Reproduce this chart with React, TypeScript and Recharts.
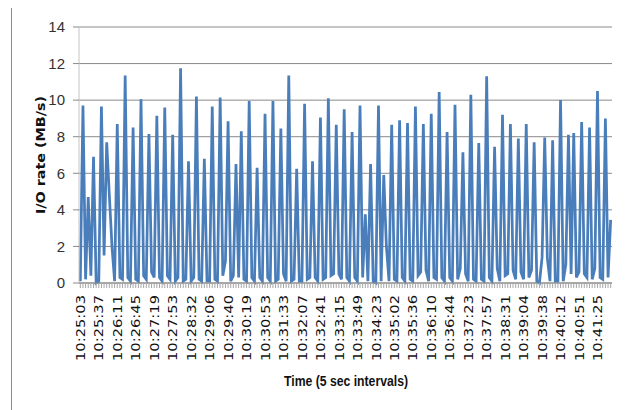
import { CartesianGrid, Label, Line, LineChart, XAxis, YAxis } from "recharts";

// one label every 7 samples (~5 s apart)
const tickLabels = [
  "10:25:03", "10:25:37", "10:26:11", "10:26:45", "10:27:19", "10:27:53", "10:28:32",
  "10:29:06", "10:29:40", "10:30:19", "10:30:53", "10:31:33", "10:32:07", "10:32:41",
  "10:33:15", "10:33:49", "10:34:23", "10:35:02", "10:35:36", "10:36:10", "10:36:44",
  "10:37:23", "10:37:57", "10:38:31", "10:39:04", "10:39:38", "10:40:12", "10:40:51",
  "10:41:25",
];
const labelEvery = 7;

// I/O rate in MB/s, one value per sample
const ioRate = [
  0.1, 9.7, 0.2, 4.7, 0.4, 6.9, 0.0, 0.1, 9.65, 1.5,
  7.7, 4.8, 2.0, 0.1, 8.7, 0.3, 0.2, 11.35, 0.3, 0.1,
  8.5, 0.2, 0.1, 10.05, 0.4, 0.2, 8.15, 0.6, 0.3, 9.15,
  0.3, 0.1, 9.6, 0.4, 0.2, 8.1, 0.1, 0.3, 11.75, 0.1,
  0.2, 6.65, 0.1, 0.3, 10.2, 0.2, 0.1, 6.8, 0.1, 0.1,
  9.65, 0.2, 0.1, 10.15, 0.4, 1.2, 8.85, 0.1, 0.4, 6.5,
  0.3, 8.3, 0.2, 0.1, 9.95, 0.3, 0.1, 6.3, 0.3, 0.1,
  9.25, 0.3, 0.1, 9.95, 0.1, 0.2, 8.45, 0.5, 0.1, 11.35,
  0.1, 0.2, 6.25, 0.1, 0.1, 9.8, 0.2, 0.3, 6.65, 0.3,
  0.1, 9.05, 0.2, 0.3, 10.1, 0.4, 0.5, 8.65, 0.5, 0.2,
  9.5, 0.3, 0.1, 8.25, 0.3, 0.1, 9.7, 0.3, 3.75, 0.1,
  6.5, 0.1, 0.0, 9.7, 0.1, 5.9, 2.0, 0.1, 8.65, 0.2,
  0.1, 8.9, 0.3, 0.1, 8.75, 0.2, 0.1, 9.65, 0.4, 0.6,
  8.7, 0.7, 0.1, 9.25, 0.3, 0.2, 10.45, 0.3, 0.1, 8.25,
  0.3, 0.1, 9.75, 0.2, 0.8, 7.15, 0.5, 0.1, 10.3, 0.2,
  0.1, 7.65, 0.2, 0.1, 11.3, 0.3, 0.1, 7.45, 0.8, 0.1,
  9.2, 0.4, 0.5, 8.7, 0.7, 0.2, 7.9, 0.6, 0.2, 8.7,
  0.3, 0.7, 7.7, 0.1, 0.0, 1.4, 7.95, 1.35, 0.1, 7.8,
  0.1, 0.1, 10.0, 0.1, 1.0, 8.1, 0.5, 8.2, 0.3, 0.6,
  8.8, 0.5, 0.3, 8.5, 0.2, 0.8, 10.5, 0.3, 0.2, 9.0,
  0.3, 3.45,
];

const yTicks = [0, 2, 4, 6, 8, 10, 12, 14];

const data = ioRate.map((v, i) => ({ i, v }));
const allIdx = data.map((d) => d.i);

function TimeTick({ x, y, payload }: any) {
  const i = payload.value as number;
  if (i % labelEvery !== 0) return null;
  const text = tickLabels[i / labelEvery];
  if (!text) return null;
  const ty = y + 5;
  return (
    <text
      x={x}
      y={ty}
      dy="0.36em"
      transform={`rotate(-90, ${x}, ${ty})`}
      textAnchor="end"
      fontFamily="DejaVu Sans, sans-serif"
      fontSize={13}
      fill="#111"
      textLength={66}
      lengthAdjust="spacingAndGlyphs"
    >
      {text}
    </text>
  );
}

function YTitle({ viewBox }: any) {
  const cx = 40 - 8;
  const cy = viewBox.y + viewBox.height / 2;
  return (
    <text
      x={cx}
      y={cy}
      transform={`rotate(-90, ${cx}, ${cy})`}
      textAnchor="middle"
      dy="0.36em"
      fontFamily="DejaVu Sans, sans-serif"
      fontWeight="bold"
      fontSize={13}
      fill="#111"
      textLength={118}
      lengthAdjust="spacingAndGlyphs"
    >
      I/O rate (MB/s)
    </text>
  );
}

function XTitle() {
  return (
    <text
      x={346 - 8}
      y={381 - 8}
      dy="0.36em"
      textAnchor="middle"
      fontFamily="Liberation Sans, Arial, sans-serif"
      fontWeight="bold"
      fontSize={15}
      fill="#111"
      textLength={124}
      lengthAdjust="spacingAndGlyphs"
    >
      Time (5 sec intervals)
    </text>
  );
}

export default function App() {
  return (
    <div style={{ position: "relative", width: 617, height: 402, overflow: "hidden" }}>
      <div
        style={{
          position: "absolute",
          left: 3,
          top: -1,
          width: 650,
          height: 430,
          border: "1px solid #8c8c8c",
          boxSizing: "border-box",
        }}
      />
      <div style={{ position: "absolute", left: 0, top: 0 }}>
        <LineChart width={617} height={402} data={data} margin={{ top: 19, right: 13, left: 31, bottom: 0 }}>
          <CartesianGrid vertical={false} stroke="#8a8a8a" strokeWidth={1} />
          <XAxis
            dataKey="i"
            type="number"
            domain={[-0.5, ioRate.length - 0.5]}
            ticks={allIdx}
            interval={0}
            tick={<TimeTick />}
            tickSize={5}
            tickLine={{ stroke: "#a6a6a6" }}
            axisLine={{ stroke: "#8a8a8a" }}
            height={127}
          >
            <Label content={<XTitle />} />
          </XAxis>
          <YAxis
            domain={[0, 14]}
            ticks={yTicks}
            interval={0}
            width={40}
            tickSize={6}
            tickMargin={8}
            tickLine={{ stroke: "#8a8a8a" }}
            axisLine={{ stroke: "#c4c4c4" }}
            tick={{ fontFamily: "Liberation Sans Narrow, Liberation Sans, Arial, sans-serif", fontSize: 15, fill: "#333" }}
          >
            <Label content={<YTitle />} />
          </YAxis>
          <Line
            type="linear"
            dataKey="v"
            stroke="#4a7ebb"
            strokeWidth={2.75}
            dot={false}
            isAnimationActive={false}
          />
        </LineChart>
      </div>
    </div>
  );
}
